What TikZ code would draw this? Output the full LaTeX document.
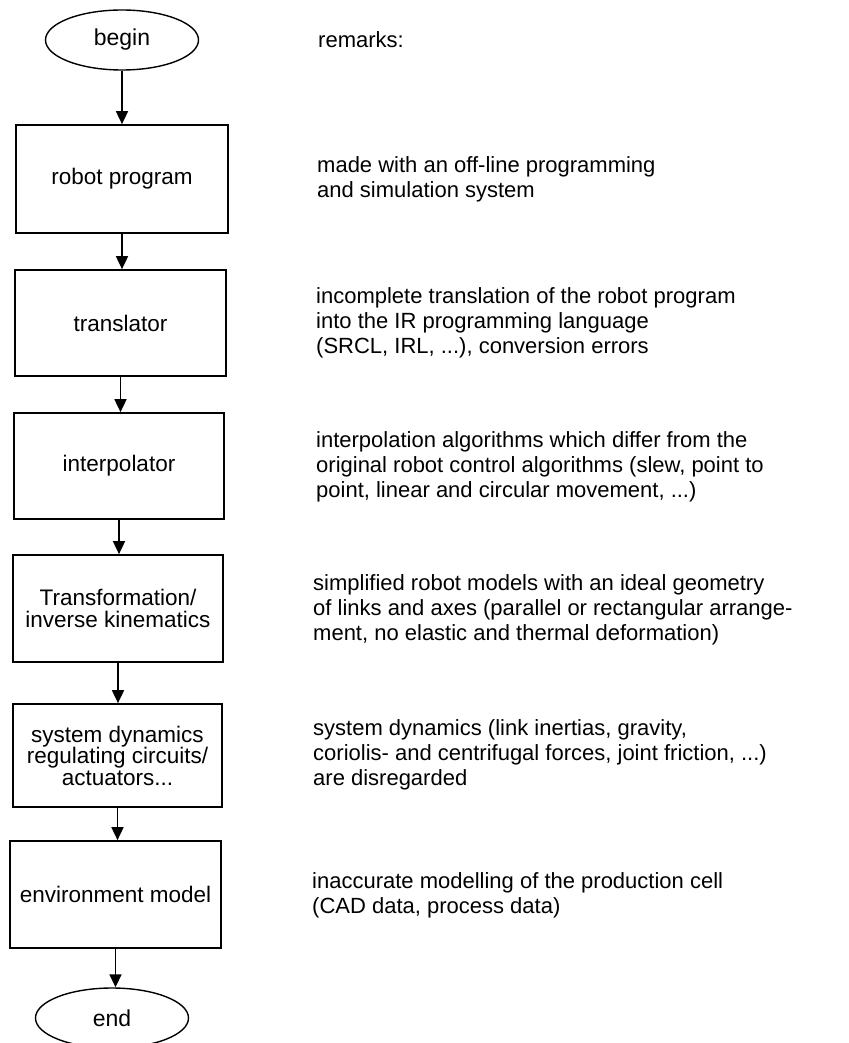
\documentclass[tikz,border=0pt]{standalone}
\usepackage{fontspec}
\setmainfont{Liberation Sans}
\usetikzlibrary{arrows.meta,shapes.geometric}

\tikzset{
  stepbox/.style={draw, line width=1.7pt, rectangle, align=center, inner sep=0pt,
    font=\fontsize{22.5}{21.5}\selectfont},
  terminal/.style={draw, line width=1.4pt, ellipse, inner sep=0pt,
    minimum width=153pt, minimum height=60pt, font=\fontsize{23}{23}\selectfont},
  flow/.style={line width=1.7pt, -{Triangle[width=12pt,length=13pt]}},
  remark/.style={anchor=base west, inner sep=0pt, font=\fontsize{22}{25}\selectfont}
}

\newcommand{\remarklines}[1]{\begin{tabular}[t]{@{}l@{}}#1\end{tabular}}

\begin{document}
\begin{tikzpicture}[x=1pt, y=-1pt]
  \useasboundingbox[fill=white] (0,0) rectangle (848,1043);

  % flow chart column
  \node[terminal] (begin) at (122,40) {begin};
  \node[stepbox, minimum width=212pt, minimum height=108pt] (prog) at (122,179) {robot program};
  \node[stepbox, minimum width=211pt, minimum height=106pt] (trans) at (120.5,323) {translator};
  \node[stepbox, minimum width=210pt, minimum height=106pt] (interp) at (119,466) {interpolator};
  \node[stepbox, minimum width=210pt, minimum height=107pt] (kin) at (118,608.5) {Transformation/\\inverse kinematics};
  \node[stepbox, minimum width=209pt, minimum height=103pt] (dyn) at (117.5,755.5) {system dynamics\\regulating circuits/\\actuators...};
  \node[stepbox, minimum width=211pt, minimum height=107pt] (env) at (115.5,894.5) {environment model};
  \node[terminal] (end) at (112,1018) {end};

  % connectors
  \draw[flow] (begin.south) -- (begin.south |- prog.north);
  \draw[flow] (prog.south) -- (prog.south |- trans.north);
  \draw[flow] (trans.south) -- (trans.south |- interp.north);
  \draw[flow] (interp.south) -- (interp.south |- kin.north);
  \draw[flow] (kin.south) -- (kin.south |- dyn.north);
  \draw[flow] (dyn.south) -- (dyn.south |- env.north);
  \draw[flow] (env.south) -- (env.south |- end.north);

  % remarks column
  \node[remark] (rhead) at (318,48) {remarks:};
  \node[remark] (r1) at (317,172) {\remarklines{made with an off-line programming\\and simulation system}};
  \node[remark] (r2) at (316,303) {\remarklines{incomplete translation of the robot program\\into the IR programming language\\(SRCL, IRL, ...), conversion errors}};
  \node[remark] (r3) at (316,447) {\remarklines{interpolation algorithms which differ from the\\original robot control algorithms (slew, point to\\point, linear and circular movement, ...)}};
  \node[remark] (r4) at (313,590) {\remarklines{simplified robot models with an ideal geometry\\of links and axes (parallel or rectangular arrange-\\ment, no elastic and thermal deformation)}};
  \node[remark] (r5) at (313,735) {\remarklines{system dynamics (link inertias, gravity,\\coriolis- and centrifugal forces, joint friction, ...)\\are disregarded}};
  \node[remark] (r6) at (312,888) {\remarklines{inaccurate modelling of the production cell\\(CAD data, process data)}};
\end{tikzpicture}
\end{document}
